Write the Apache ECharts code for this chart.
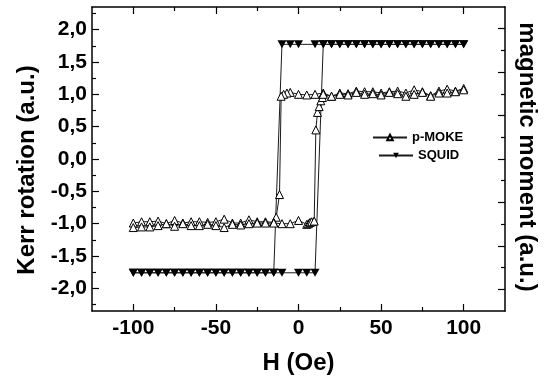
<!DOCTYPE html>
<html>
<head>
<meta charset="utf-8">
<script src="https://cdn.jsdelivr.net/npm/echarts@6/dist/echarts.min.js"></script>
<style>
  html, body { margin: 0; padding: 0; background: #fff; }
  #chart { width: 546px; height: 381px; }
</style>
</head>
<body>
<div id="chart"></div>
<script>
// p-MOKE loop, field sweep down (+100 -> -100)
const mokeDescH = [100, 95, 90, 85, 80, 75, 70, 65, 60, 55, 50, 45, 40, 35, 30, 25, 20, 15, 10, 5, 0, -5, -7, -9, -10.5, -11.5, -13.5, -15, -20, -25, -30, -35, -40, -45, -50, -55, -60, -65, -70, -75, -80, -85, -90, -95, -100];
const mokeDescK = [1.09, 1.05, 1.08, 1.05, 0.98, 1.04, 1.07, 1.02, 1.05, 1.04, 1.02, 1.04, 1.04, 1.05, 1.01, 1.02, 0.97, 1.02, 1.0, 0.99, 1.0, 1.03, 1.02, 1.0, 0.97, -0.55, -0.9, -0.98, -0.97, -0.97, -0.94, -0.99, -0.99, -0.93, -0.97, -0.98, -0.97, -0.97, -0.99, -0.95, -1.0, -0.96, -0.97, -0.97, -0.99];
// p-MOKE loop, field sweep up (-100 -> +100)
const mokeAscH = [-100, -95, -90, -85, -80, -75, -70, -65, -60, -55, -50, -45, -40, -35, -30, -25, -20, -15, -10, -5, 0, 5, 6, 7, 8, 9.5, 10.5, 11.5, 12.5, 13.5, 14.5, 15, 20, 25, 30, 35, 40, 45, 50, 55, 60, 65, 70, 75, 80, 85, 90, 95, 100];
const mokeAscK = [-1.06, -1.05, -1.05, -1.03, -1.0, -1.04, -1.0, -1.03, -1.03, -1.01, -1.03, -1.06, -1.01, -1.02, -1.0, -0.99, -0.99, -0.99, -1.0, -1.0, -0.95, -1.01, -1.0, -0.98, -0.97, -0.96, 0.45, 0.72, 0.81, 0.9, 0.95, 1.0, 0.97, 1.0, 0.99, 1.03, 1.0, 1.01, 0.99, 1.03, 1.01, 0.97, 1.0, 1.03, 0.97, 1.02, 1.02, 1.04, 1.07];

// SQUID loop (right axis units)
const squidDescH = [100, 95, 90, 85, 80, 75, 70, 65, 60, 55, 50, 45, 40, 35, 30, 25, 20, 15, 10, 0, -5, -10, -15, -20, -25, -30, -35, -40, -45, -50, -55, -60, -65, -70, -75, -80, -85, -90, -95, -100];
const squidDescM = [2.64, 2.64, 2.64, 2.64, 2.64, 2.64, 2.64, 2.64, 2.64, 2.64, 2.64, 2.64, 2.64, 2.64, 2.64, 2.64, 2.64, 2.64, 2.64, 2.64, 2.64, 2.64, -2.62, -2.62, -2.62, -2.62, -2.62, -2.62, -2.62, -2.62, -2.62, -2.62, -2.62, -2.62, -2.62, -2.62, -2.62, -2.62, -2.62, -2.62];
const squidAscH = [-100, -95, -90, -85, -80, -75, -70, -65, -60, -55, -50, -45, -40, -35, -30, -25, -20, -15, -10, 0, 5, 10, 15, 20, 25, 30, 35, 40, 45, 50, 55, 60, 65, 70, 75, 80, 85, 90, 95, 100];
const squidAscM = [-2.62, -2.62, -2.62, -2.62, -2.62, -2.62, -2.62, -2.62, -2.62, -2.62, -2.62, -2.62, -2.62, -2.62, -2.62, -2.62, -2.62, -2.62, -2.62, -2.62, -2.62, -2.62, 2.64, 2.64, 2.64, 2.64, 2.64, 2.64, 2.64, 2.64, 2.64, 2.64, 2.64, 2.64, 2.64, 2.64, 2.64, 2.64, 2.64, 2.64];

// ticks
const hMajor = [-100, -50, 0, 50, 100];
const hMinor = [-75, -25, 25, 75];
const kerrMajor = [-2, -1.5, -1, -0.5, 0, 0.5, 1, 1.5, 2];
const kerrMinor = [-2.25, -1.75, -1.25, -0.75, -0.25, 0.25, 0.75, 1.25, 1.75, 2.25];
const momentMajor = [-3, -2, -1, 0, 1, 2, 3];
const momentMinor = [-2.5, -1.5, -0.5, 0.5, 1.5, 2.5];

const zip = (a, b) => a.map((v, i) => [v, b[i]]);
const FONT = "'Liberation Sans', Arial, sans-serif";
const lineCol = '#1a1a1a';

const tickAxis = (extra, values, len, showLine) => Object.assign({
  type: 'value',
  axisLine: { show: showLine, onZero: false, lineStyle: { color: '#000', width: 1.5 } },
  axisTick: { show: true, inside: true, length: len, customValues: values, lineStyle: { color: '#000', width: 1.2 } },
  axisLabel: { show: false },
  splitLine: { show: false }
}, extra);

const chart = echarts.init(document.getElementById('chart'));
chart.setOption({
  animation: false,
  backgroundColor: '#fff',
  grid: { left: 92, right: 41, top: 7, bottom: 70 },
  legend: [
    {
      data: ['p-MOKE'], left: 367, top: 126, itemWidth: 34, itemHeight: 7,
      textStyle: { fontFamily: FONT, fontWeight: 'bold', fontSize: 13, color: '#000' }
    },
    {
      data: ['SQUID'], left: 373, top: 144, itemWidth: 34, itemHeight: 7,
      textStyle: { fontFamily: FONT, fontWeight: 'bold', fontSize: 13, color: '#000' }
    }
  ],
  xAxis: [
    tickAxis({
      position: 'bottom', min: -125, max: 125,
      name: 'H (Oe)', nameLocation: 'middle', nameGap: 40,
      nameTextStyle: { fontFamily: FONT, fontWeight: 'bold', fontSize: 24, color: '#000' },
      axisLabel: {
        show: true, customValues: hMajor, margin: 7,
        fontFamily: FONT, fontWeight: 'bold', fontSize: 21, color: '#000'
      }
    }, hMajor, 7, true),
    tickAxis({ position: 'bottom', min: -125, max: 125 }, hMinor, 4, false),
    tickAxis({ position: 'top', min: -125, max: 125 }, hMajor, 7, true),
    tickAxis({ position: 'top', min: -125, max: 125 }, hMinor, 4, false)
  ],
  yAxis: [
    tickAxis({
      position: 'left', min: -2.35, max: 2.35,
      axisLabel: {
        show: true, customValues: kerrMajor, margin: 5,
        fontFamily: FONT, fontWeight: 'bold', fontSize: 21, color: '#000',
        formatter: v => v.toFixed(1).replace('.', ',')
      }
    }, kerrMajor, 7, true),
    tickAxis({ position: 'left', min: -2.35, max: 2.35 }, kerrMinor, 4, false),
    tickAxis({ position: 'right', min: -3.5, max: 3.5 }, momentMajor, 7, true),
    tickAxis({ position: 'right', min: -3.5, max: 3.5 }, momentMinor, 4, false)
  ],
  graphic: [
    {
      type: 'text', x: 27, y: 170, rotation: Math.PI / 2,
      style: {
        text: 'Kerr rotation (a.u.)', fill: '#000', font: 'bold 24px ' + FONT,
        align: 'center', verticalAlign: 'middle'
      }
    },
    {
      type: 'text', x: 527, y: 157, rotation: -Math.PI / 2,
      style: {
        text: 'magnetic moment (a.u.)', fill: '#000', font: 'bold 24px ' + FONT,
        align: 'center', verticalAlign: 'middle'
      }
    }
  ],
  series: [
    {
      name: 'p-MOKE', type: 'line', xAxisIndex: 0, yAxisIndex: 0,
      data: zip(mokeDescH, mokeDescK).concat(zip(mokeAscH, mokeAscK)),
      symbol: 'triangle', symbolSize: 8,
      lineStyle: { color: lineCol, width: 1 },
      itemStyle: { color: '#fff', borderColor: '#000', borderWidth: 1 },
      z: 3
    },
    {
      name: 'SQUID', type: 'line', xAxisIndex: 0, yAxisIndex: 2,
      data: zip(squidDescH, squidDescM).concat(zip(squidAscH, squidAscM)),
      symbol: 'triangle', symbolSize: [9, 8], symbolRotate: 180,
      lineStyle: { color: lineCol, width: 1 },
      itemStyle: { color: '#000', borderColor: '#000', borderWidth: 0 },
      z: 2
    }
  ]
});
</script>
</body>
</html>
